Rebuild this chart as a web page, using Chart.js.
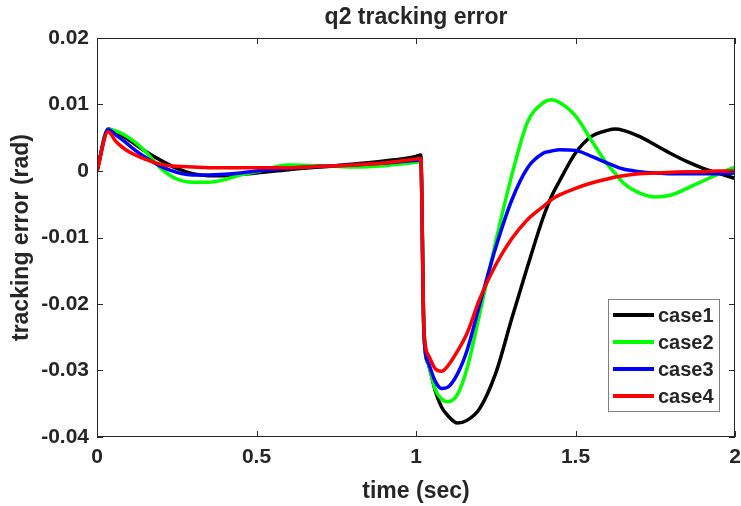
<!DOCTYPE html>
<html>
<head>
<meta charset="utf-8">
<script src="https://cdn.jsdelivr.net/npm/chart.js@4.4.1/dist/chart.umd.min.js"></script>
<style>
	html, body { margin: 0; padding: 0; background: #ffffff; }
	#wrap { width: 741px; height: 506px; }
</style>
</head>
<body>
<div id="wrap"><canvas id="errChart" width="741" height="506"></canvas></div>
<script>
// time axis (sec)
const timeSec = [0, 0.035, 0.06, 0.09, 0.12, 0.15, 0.2, 0.25, 0.3, 0.35, 0.4, 0.45, 0.5, 0.6, 0.7, 0.8, 0.9, 1.0,
	1.015, 1.025, 1.04, 1.06, 1.08, 1.1, 1.13, 1.16, 1.2,
	1.25, 1.3, 1.35, 1.4, 1.425, 1.45, 1.5, 1.55, 1.6, 1.625, 1.65, 1.7, 1.75, 1.8, 1.85, 1.9, 1.95, 2.0];

// tracking error (rad) per case
const case1 = [0, .0063, .0058, .0050, .0040, .0030, .0016, .0004, -.0004, -.0007, -.0007, -.0005, -.0003, .0002, .0006, .0010, .0015, .0022,
	.0024, -.0245, -.0292, -.0330, -.0355, -.0368, -.0379, -.0375, -.0357,
	-.0304, -.0222, -.0143, -.0068, -.0038, -.0015, .0027, .0052, .0061, .0063, .0061, .0052, .0039, .0026, .0014, .0004, -.0004, -.0011];
const case2 = [0, .0062, .0060, .0053, .0043, .0030, .0004, -.0012, -.0017, -.0017, -.0013, -.0006, -.0001, .0009, .0008, .0006, .0008, .0013,
	.0014, -.0245, -.0292, -.0328, -.0343, -.0347, -.0336, -.0297, -.0214,
	-.0106, -.0007, .0074, .0103, .0107, .0103, .0083, .0046, .0010, -.0004, -.0018, -.0033, -.0039, -.0036, -.0026, -.0015, -.0004, .0006];
const case3 = [0, .0062, .0054, .0043, .0031, .0021, .0007, -.0002, -.0006, -.0006, -.0005, -.0003, .0000, .0004, .0007, .0009, .0012, .0016,
	.0017, -.0245, -.0290, -.0316, -.0327, -.0325, -.0305, -.0270, -.0200,
	-.0115, -.0044, .0005, .0027, .0030, .0032, .0031, .0022, .0012, .0007, .0003, -.0001, -.0003, -.0004, -.0004, -.0004, -.0004, -.0003];
const case4 = [0, .0059, .0044, .0032, .0024, .0018, .0010, .0007, .0006, .0005, .0005, .0005, .0005, .0005, .0007, .0009, .0012, .0018,
	.0019, -.0240, -.0278, -.0297, -.0301, -.0293, -.0271, -.0244, -.0192,
	-.0141, -.0102, -.0073, -.0053, -.0043, -.0036, -.0026, -.0018, -.0012, -.0009, -.0007, -.0004, -.0003, -.0002, -.0001, -.0001, 0, 0];

const caseNames = ['case1', 'case2', 'case3', 'case4'];
const caseColors = ['#000000', '#00ff00', '#0000ff', '#ff0000'];

const xTickValues = [0, 0.5, 1, 1.5, 2];
const xTickLabels = ['0', '0.5', '1', '1.5', '2'];
const yTickValues = [-0.04, -0.03, -0.02, -0.01, 0, 0.01, 0.02];
const yTickLabels = ['-0.04', '-0.03', '-0.02', '-0.01', '0', '0.01', '0.02'];

const chartTitle = 'q2 tracking error';
const xTitle = 'time (sec)';
const yTitle = 'tracking error (rad)';

const axisColor = '#262626';
const fontFamily = '"Liberation Sans", Arial, sans-serif';

// 박스, 안쪽 눈금, 제목, 범례 그리기
const matlabFrame = {
	id: 'matlabFrame',
	afterDraw(chart) {
		const ctx = chart.ctx;
		const a = chart.chartArea;
		const xs = chart.scales.x;
		const ys = chart.scales.y;
		ctx.save();
		ctx.strokeStyle = axisColor;
		ctx.lineWidth = 1;
		ctx.strokeRect(a.left + 0.5, a.top + 0.5, a.right - a.left - 1, a.bottom - a.top - 1);

		// inward ticks on all four sides
		const tl = 6;
		ctx.beginPath();
		xTickValues.forEach(v => {
			const px = Math.round(xs.getPixelForValue(v)) + 0.5;
			ctx.moveTo(px, a.bottom); ctx.lineTo(px, a.bottom - tl);
			ctx.moveTo(px, a.top); ctx.lineTo(px, a.top + tl);
		});
		yTickValues.forEach(v => {
			const py = Math.round(ys.getPixelForValue(v)) + 0.5;
			ctx.moveTo(a.left, py); ctx.lineTo(a.left + tl, py);
			ctx.moveTo(a.right, py); ctx.lineTo(a.right - tl, py);
		});
		ctx.stroke();

		// title
		ctx.fillStyle = axisColor;
		ctx.font = 'bold 23px ' + fontFamily;
		ctx.textAlign = 'center';
		ctx.textBaseline = 'middle';
		ctx.fillText(chartTitle, (a.left + a.right) / 2, 18);

		// legend box
		const box = { left: 608.5, top: 299.5, width: 111, height: 112 };
		ctx.fillStyle = '#ffffff';
		ctx.fillRect(box.left, box.top, box.width, box.height);
		ctx.strokeStyle = '#808080';
		ctx.strokeRect(box.left, box.top, box.width, box.height);
		ctx.font = 'bold 20px ' + fontFamily;
		ctx.textAlign = 'left';
		chart.data.datasets.forEach((ds, i) => {
			const cy = 315 + i * 27;
			ctx.strokeStyle = ds.borderColor;
			ctx.lineWidth = 4;
			ctx.beginPath();
			ctx.moveTo(613, cy);
			ctx.lineTo(654, cy);
			ctx.stroke();
			ctx.fillStyle = axisColor;
			ctx.fillText(ds.label, 658, cy + 1);
		});
		ctx.restore();
	}
};

const datasets = [case1, case2, case3, case4].map((vals, i) => ({
	label: caseNames[i],
	data: timeSec.map((t, j) => ({ x: t, y: vals[j] })),
	borderColor: caseColors[i],
	backgroundColor: caseColors[i],
	borderWidth: 3.5,
	pointRadius: 0,
	fill: false,
	cubicInterpolationMode: 'monotone',
	order: 4 - i
}));

new Chart(document.getElementById('errChart').getContext('2d'), {
	type: 'line',
	data: { datasets: datasets },
	options: {
		responsive: false,
		animation: false,
		devicePixelRatio: 1,
		layout: { autoPadding: false, padding: { top: 38, right: 6, left: 0, bottom: 0 } },
		plugins: {
			legend: { display: false },
			title: { display: false },
			tooltip: { enabled: false }
		},
		scales: {
			x: {
				type: 'linear',
				min: 0,
				max: 2,
				afterBuildTicks: scale => { scale.ticks = xTickValues.map(v => ({ value: v })); },
				afterFit: scale => {
					scale.height = 69;
					scale.paddingLeft = 0;
					scale.paddingRight = 0;
				},
				grid: { display: false, drawTicks: false },
				border: { display: false },
				ticks: {
					color: axisColor,
					padding: 8,
					maxRotation: 0,
					font: { family: fontFamily, size: 21, weight: 'bold' },
					callback: value => xTickLabels[xTickValues.indexOf(value)]
				},
				title: {
					display: true,
					text: xTitle,
					color: axisColor,
					padding: { top: 2, bottom: 1 },
					font: { family: fontFamily, size: 23, weight: 'bold' }
				}
			},
			y: {
				type: 'linear',
				min: -0.04,
				max: 0.02,
				afterBuildTicks: scale => { scale.ticks = yTickValues.map(v => ({ value: v })); },
				afterFit: scale => {
					scale.width = 97;
					scale.paddingTop = 0;
					scale.paddingBottom = 0;
				},
				grid: { display: false, drawTicks: false },
				border: { display: false },
				ticks: {
					color: axisColor,
					padding: 8,
					font: { family: fontFamily, size: 21, weight: 'bold' },
					callback: value => yTickLabels[yTickValues.findIndex(v => Math.abs(v - value) < 1e-9)]
				},
				title: {
					display: true,
					text: yTitle,
					color: axisColor,
					padding: { top: 8, bottom: 0 },
					font: { family: fontFamily, size: 23, weight: 'bold' }
				}
			}
		}
	},
	plugins: [matlabFrame]
});
</script>
</body>
</html>
